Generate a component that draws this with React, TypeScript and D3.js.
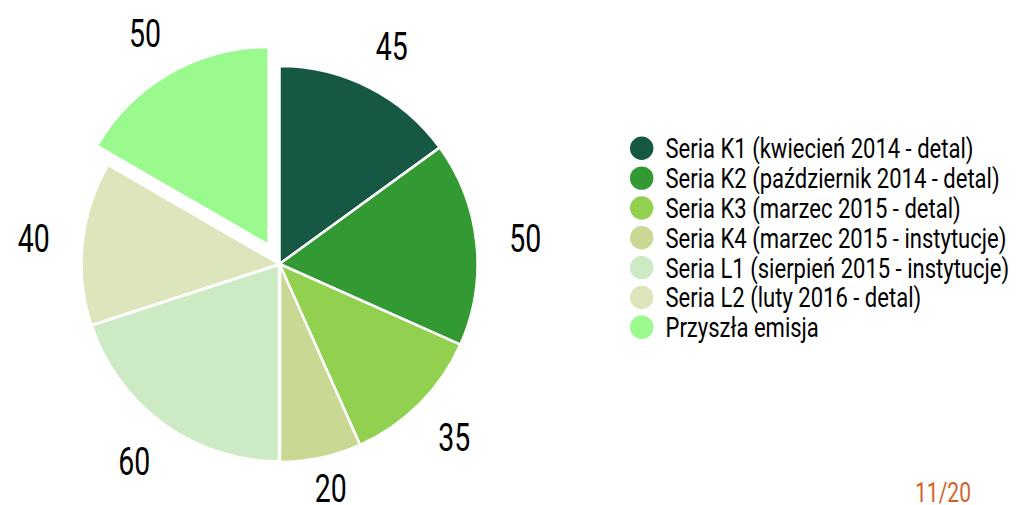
import React, { useLayoutEffect, useRef, useState } from "react";
import * as d3 from "d3";

const categories = [
  "Seria K1 (kwiecień 2014 - detal)",
  "Seria K2 (październik 2014 - detal)",
  "Seria K3 (marzec 2015 - detal)",
  "Seria K4 (marzec 2015 - instytucje)",
  "Seria L1 (sierpień 2015 - instytucje)",
  "Seria L2 (luty 2016 - detal)",
  "Przyszła emisja",
];
const values = [45, 50, 35, 20, 60, 40, 50];
const colors = ["#175845", "#339933", "#92D050", "#C9D994", "#CCEAC4", "#DDE5BC", "#9AFA8E"];
const explodedIndex = 6;
const pageLabel = "11/20";

const W = 1023;
const H = 505;
const FONT = "Roboto, 'Noto Sans', sans-serif";

export default function App() {
  const measureRef = useRef<SVGTextElement | null>(null);
  const numRef = useRef<SVGTextElement | null>(null);
  const pageRef = useRef<SVGTextElement | null>(null);
  const [k, setK] = useState(1);
  const [kn, setKn] = useState(1);
  const [kp, setKp] = useState(1);

  useLayoutEffect(() => {
    if (measureRef.current) {
      const len = measureRef.current.getComputedTextLength();
      if (len > 0) setK(308 / len);
    }
    if (numRef.current) {
      const len = numRef.current.getComputedTextLength();
      if (len > 0) setKn(32 / len);
    }
    if (pageRef.current) {
      const len = pageRef.current.getComputedTextLength();
      if (len > 0) setKp(56 / len);
    }
  }, []);

  const cx = 279.5;
  const cy = 264;
  const r = 198;
  const explode = 22;
  const labelR = 231;
  const halfW = 16;
  const halfH = 13.5;

  const pie = d3.pie<number>().sort(null).value((d) => d)(values);
  const arc = d3.arc<d3.PieArcDatum<number>>().innerRadius(0).outerRadius(r);

  const legendY = d3.scalePoint<number>().domain(d3.range(categories.length)).range([148.3, 327.3]);

  return (
    <svg
      width={W}
      height={H}
      style={{ position: "absolute", left: 0, top: 0, display: "block", background: "#fff" }}
    >
      <g transform={`translate(${cx},${cy})`}>
        {pie.map((p, i) => {
          const mid = (p.startAngle + p.endAngle) / 2;
          const off = i === explodedIndex ? explode : 0;
          const dx = Math.sin(mid) * off;
          const dy = -Math.cos(mid) * off;
          return (
            <path
              key={i}
              d={arc(p) || ""}
              transform={`translate(${dx},${dy})`}
              fill={colors[i]}
              stroke="#fff"
              strokeWidth={i === 4 ? 3.5 : 2.5}
              strokeLinejoin="miter"
            />
          );
        })}
        {pie.map((p, i) => {
          const mid = (p.startAngle + p.endAngle) / 2;
          const off = i === explodedIndex ? explode : 0;
          const s = Math.sin(mid);
          const c = Math.cos(mid);
          const x = s * (labelR + off) + s * halfW;
          let y = -c * (labelR + off) - c * halfH;
          y = Math.min(y, H - 17 - cy);
          return (
            <text
              key={i}
              ref={i === 0 ? numRef : undefined}
              transform={`translate(${x},${y}) scale(${kn},1)`}
              textAnchor="middle"
              dy="0.36em"
              fontFamily={FONT}
              fontSize={38}
              fill="#000"
            >
              {values[i]}
            </text>
          );
        })}
      </g>
      <g>
        {categories.map((c, i) => {
          const y = legendY(i) as number;
          return (
            <g key={i}>
              <circle cx={641.7} cy={y} r={11.7} fill={colors[i]} />
              <text
                ref={i === 0 ? measureRef : undefined}
                transform={`translate(665.5,${y + 10}) scale(${k},1)`}
                fontFamily={FONT}
                fontSize={28}
                fill="#000"
              >
                {c}
              </text>
            </g>
          );
        })}
      </g>
      <text
        ref={pageRef}
        transform={`translate(943,501.5) scale(${kp},1)`}
        textAnchor="middle"
        fontFamily={FONT}
        fontSize={28}
        fill="#D2622A"
      >
        {pageLabel}
      </text>
    </svg>
  );
}
